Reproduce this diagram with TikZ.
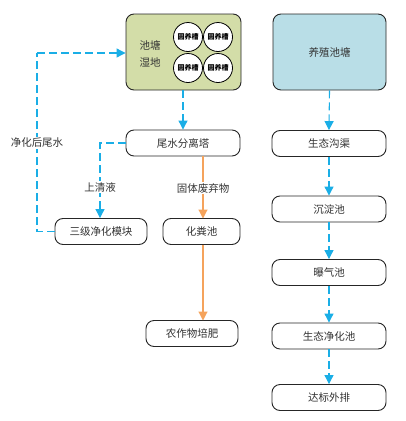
\documentclass[tikz,border=0pt]{standalone}
\usepackage{fontspec}
\setmainfont{Liberation Serif}
\newfontfamily\cjk{Noto Sans CJK SC}
\usetikzlibrary{arrows.meta}
\definecolor{flowblue}{HTML}{1AAEE6}
\definecolor{floworange}{HTML}{F5A35C}
\definecolor{greenfill}{HTML}{D3DDA8}
\definecolor{bluefill}{HTML}{B9DEE7}
\definecolor{txt}{HTML}{333333}
\begin{document}
\begin{tikzpicture}[x=1pt,y=-1pt,
  font=\cjk\fontsize{10.5}{12}\selectfont,
  box/.style={draw=black!85,line width=0.9pt,rounded corners=8pt,text=txt},
  pill/.style={draw=black!85,line width=0.9pt,rounded corners=8pt,fill=white,text=txt,minimum height=26pt,inner sep=0pt},
  pond/.style={circle,draw=black,line width=0.8pt,fill=white,minimum size=29pt,inner sep=0pt,font=\cjk\bfseries\fontsize{7}{8}\selectfont},
  bflow/.style={draw=flowblue,line width=1.1pt,dash pattern=on 8pt off 4pt,-{Triangle[width=9pt,length=9pt,fill=flowblue]}},
  bline/.style={draw=flowblue,line width=1.1pt,dash pattern=on 8pt off 4pt},
  oflow/.style={draw=floworange,line width=1.1pt,-{Triangle[width=9pt,length=9pt,fill=floworange]}},
  lbl/.style={fill=white,text=txt,inner sep=1pt}
]
\useasboundingbox (0,0) rectangle (405,421);
% top boxes
\node[box,fill=greenfill,minimum width=115pt,minimum height=76pt] (wet) at (183.5,52) {};
\node[text=txt,align=center,font=\cjk\fontsize{10.5}{17}\selectfont] (wetlbl) at (150,54) {池塘\\湿地};
\node[pond] (p1) at (188,37) {圆养槽};
\node[pond] (p2) at (218,37) {圆养槽};
\node[pond] (p3) at (188,68) {圆养槽};
\node[pond] (p4) at (218,68) {圆养槽};
\node[box,fill=bluefill,minimum width=113pt,minimum height=76pt] (farm) at (329.5,52) {养殖池塘};
% left column
\node[pill,minimum width=114pt] (sep) at (183,143) {尾水分离塔};
\node[pill,minimum width=92pt] (puri) at (101,231.5) {三级净化模块};
\node[pill,minimum width=77pt] (manure) at (201.5,231.5) {化粪池};
\node[pill,minimum width=92pt] (crop) at (192,333.5) {农作物培肥};
% right column
\node[pill,minimum width=114pt] (r1) at (329,143.5) {生态沟渠};
\node[pill,minimum width=114pt] (r2) at (329,209) {沉淀池};
\node[pill,minimum width=114pt] (r3) at (329,272.5) {曝气池};
\node[pill,minimum width=114pt] (r4) at (329,336) {生态净化池};
\node[pill,minimum width=114pt] (r5) at (329,397.5) {达标外排};
% coordinates
\coordinate (c1) at (100,143);
\coordinate (c2) at (37,231.5);
\coordinate (c3) at (37,53);
% flows
\draw[bflow] (wet.south -| sep.north) -- (sep.north);
\draw[bflow] (sep.west) -- (c1) -- (c1 |- puri.north);
\draw[bline] (puri.west) -- (c2) -- (c3);
\draw[bflow] (c3) -- (c3 -| wet.west);
\draw[oflow] (203,156) -- (203,218.5);
\draw[oflow] (203,244.5) -- (203,320.5);
\draw[bflow] (farm.south) -- (r1.north);
\draw[bflow] (r1.south) -- (r2.north);
\draw[bflow] (r2.south) -- (r3.north);
\draw[bflow] (r3.south) -- (r4.north);
\draw[bflow] (r4.south) -- (r5.north);
% labels
\node[lbl] (l1) at (100,187) {上清液};
\node[lbl] (l2) at (37,143) {净化后尾水};
\node[lbl] (l3) at (203,188) {固体废弃物};
\end{tikzpicture}
\end{document}
